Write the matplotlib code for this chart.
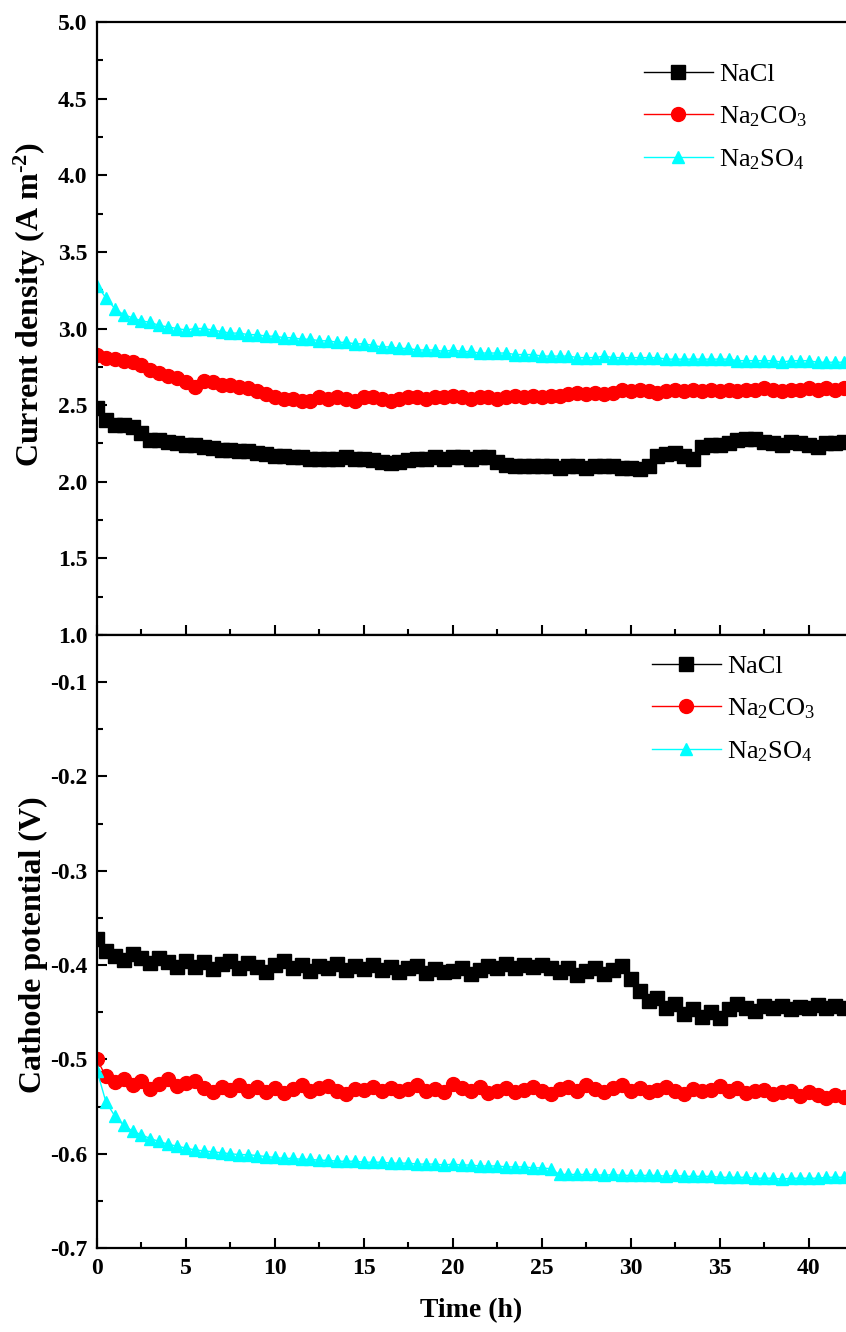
import numpy as np
import matplotlib
matplotlib.use("Agg")
import matplotlib.pyplot as plt
from matplotlib.ticker import MultipleLocator

plt.rcParams['font.family'] = ['Liberation Serif', 'DejaVu Serif']
plt.rcParams['mathtext.fontset'] = 'custom'
plt.rcParams['mathtext.rm'] = 'Liberation Serif'
plt.rcParams['mathtext.bf'] = 'Liberation Serif:bold'
plt.rcParams['mathtext.default'] = 'regular'

# sampling times (h), every 0.5 h
time_h = np.arange(0, 42.5, 0.5)

labels = ['NaCl', 'Na$_2$CO$_3$', 'Na$_2$SO$_4$']

# current density (A m-2)
cd_nacl = [
    2.48, 2.40, 2.37, 2.37, 2.36, 2.32, 2.27, 2.27, 2.26, 2.25,
    2.24, 2.24, 2.23, 2.22, 2.21, 2.21, 2.20, 2.20, 2.19, 2.18,
    2.17, 2.17, 2.16, 2.16, 2.15, 2.15, 2.15, 2.15, 2.16, 2.15,
    2.15, 2.14, 2.13, 2.12, 2.13, 2.14, 2.15, 2.15, 2.16, 2.15,
    2.16, 2.16, 2.15, 2.16, 2.16, 2.13, 2.11, 2.10, 2.10, 2.10,
    2.10, 2.10, 2.09, 2.10, 2.10, 2.09, 2.10, 2.10, 2.10, 2.09,
    2.09, 2.08, 2.10, 2.17, 2.18, 2.19, 2.17, 2.15, 2.23, 2.24,
    2.24, 2.25, 2.27, 2.28, 2.28, 2.26, 2.25, 2.24, 2.26, 2.25,
    2.24, 2.23, 2.25, 2.25, 2.26,
]
cd_na2co3 = [
    2.83, 2.81, 2.80, 2.79, 2.78, 2.76, 2.73, 2.71, 2.69, 2.68,
    2.65, 2.62, 2.66, 2.65, 2.63, 2.63, 2.62, 2.61, 2.59, 2.57,
    2.55, 2.54, 2.54, 2.53, 2.53, 2.55, 2.54, 2.55, 2.54, 2.53,
    2.55, 2.55, 2.54, 2.53, 2.54, 2.55, 2.55, 2.54, 2.55, 2.55,
    2.56, 2.55, 2.54, 2.55, 2.55, 2.54, 2.55, 2.56, 2.55, 2.56,
    2.55, 2.56, 2.56, 2.57, 2.58, 2.57, 2.58, 2.57, 2.58, 2.60,
    2.59, 2.60, 2.59, 2.58, 2.59, 2.60, 2.59, 2.60, 2.59, 2.60,
    2.59, 2.60, 2.59, 2.60, 2.60, 2.61, 2.60, 2.59, 2.60, 2.60,
    2.61, 2.60, 2.61, 2.60, 2.61,
]
cd_na2so4 = [
    3.28, 3.20, 3.13, 3.09, 3.07, 3.05, 3.04, 3.02, 3.01, 3.00,
    2.99, 3.00, 3.00, 2.99, 2.98, 2.97, 2.97, 2.96, 2.96, 2.95,
    2.95, 2.94, 2.94, 2.93, 2.93, 2.92, 2.92, 2.91, 2.91, 2.90,
    2.90, 2.89, 2.88, 2.88, 2.87, 2.87, 2.86, 2.86, 2.86, 2.85,
    2.86, 2.85, 2.85, 2.84, 2.84, 2.84, 2.84, 2.83, 2.83, 2.83,
    2.82, 2.82, 2.82, 2.82, 2.81, 2.81, 2.81, 2.82, 2.81, 2.81,
    2.81, 2.81, 2.81, 2.81, 2.80, 2.80, 2.80, 2.80, 2.80, 2.80,
    2.80, 2.80, 2.79, 2.79, 2.79, 2.79, 2.79, 2.78, 2.79, 2.79,
    2.79, 2.78, 2.78, 2.78, 2.78,
]

# cathode potential (V)
cp_nacl = [
    -0.372, -0.385, -0.390, -0.395, -0.388, -0.393, -0.398, -0.392, -0.397, -0.402,
    -0.396, -0.402, -0.397, -0.404, -0.399, -0.396, -0.403, -0.398, -0.402, -0.407,
    -0.400, -0.396, -0.403, -0.400, -0.406, -0.401, -0.403, -0.399, -0.405, -0.401,
    -0.404, -0.400, -0.405, -0.402, -0.407, -0.403, -0.401, -0.408, -0.404, -0.407,
    -0.406, -0.403, -0.409, -0.405, -0.401, -0.403, -0.399, -0.403, -0.400, -0.402,
    -0.400, -0.403, -0.407, -0.403, -0.410, -0.406, -0.403, -0.409, -0.405, -0.401,
    -0.415, -0.428, -0.438, -0.435, -0.445, -0.441, -0.452, -0.447, -0.455, -0.450,
    -0.456, -0.447, -0.441, -0.445, -0.449, -0.443, -0.446, -0.443, -0.447, -0.444,
    -0.446, -0.442, -0.445, -0.443, -0.446,
]
cp_na2co3 = [
    -0.500, -0.518, -0.524, -0.521, -0.527, -0.523, -0.531, -0.526, -0.521, -0.528,
    -0.525, -0.523, -0.530, -0.535, -0.529, -0.532, -0.527, -0.533, -0.529, -0.535,
    -0.530, -0.536, -0.531, -0.527, -0.533, -0.530, -0.528, -0.533, -0.537, -0.531,
    -0.532, -0.529, -0.534, -0.530, -0.534, -0.531, -0.527, -0.533, -0.531, -0.535,
    -0.526, -0.530, -0.534, -0.529, -0.536, -0.533, -0.530, -0.535, -0.532, -0.529,
    -0.534, -0.537, -0.531, -0.529, -0.534, -0.527, -0.531, -0.535, -0.530, -0.527,
    -0.533, -0.530, -0.535, -0.532, -0.529, -0.534, -0.537, -0.531, -0.534, -0.532,
    -0.528, -0.533, -0.530, -0.536, -0.534, -0.532, -0.537, -0.535, -0.534, -0.539,
    -0.535, -0.538, -0.541, -0.538, -0.540,
]
cp_na2so4 = [
    -0.512, -0.545, -0.560, -0.570, -0.576, -0.580, -0.584, -0.587, -0.590, -0.592,
    -0.594, -0.596, -0.597, -0.598, -0.599, -0.600, -0.601, -0.601, -0.602, -0.603,
    -0.604, -0.605, -0.605, -0.606, -0.606, -0.607, -0.607, -0.608, -0.608, -0.608,
    -0.609, -0.609, -0.609, -0.610, -0.610, -0.610, -0.611, -0.611, -0.611, -0.612,
    -0.611, -0.612, -0.612, -0.613, -0.613, -0.613, -0.614, -0.614, -0.614, -0.615,
    -0.615, -0.616, -0.622, -0.622, -0.622, -0.622, -0.622, -0.623, -0.622, -0.623,
    -0.623, -0.623, -0.623, -0.623, -0.624, -0.623, -0.624, -0.624, -0.624, -0.624,
    -0.625, -0.625, -0.625, -0.625, -0.626, -0.626, -0.626, -0.627, -0.626, -0.626,
    -0.626, -0.626, -0.625, -0.625, -0.625,
]

styles = [
    dict(color='black', marker='s', markersize=9.5),
    dict(color='red', marker='o', markersize=10),
    dict(color='#00FFFF', marker='^', markersize=9),
]

W, H = 846, 1332
fig = plt.figure(figsize=(W / 100, H / 100), dpi=100)
left = 97 / W
ax1 = fig.add_axes([left, 1 - 635 / H, 1 - left, (635 - 22) / H])
ax2 = fig.add_axes([left, 1 - 1248 / H, 1 - left, (1248 - 635) / H])

for s, y, lab in zip(styles, [cd_nacl, cd_na2co3, cd_na2so4], labels):
    ax1.plot(time_h, y, linewidth=1, label=lab, **s)
for s, y, lab in zip(styles, [cp_nacl, cp_na2co3, cp_na2so4], labels):
    ax2.plot(time_h, y, linewidth=1, label=lab, **s)

ax1.set_ylim(1.0, 5.0)
ax1.yaxis.set_major_locator(MultipleLocator(0.5))
ax1.yaxis.set_minor_locator(MultipleLocator(0.25))
ax2.set_ylim(-0.7, -0.05)
ax2.yaxis.set_major_locator(MultipleLocator(0.1))
ax2.yaxis.set_minor_locator(MultipleLocator(0.05))

for ax in (ax1, ax2):
    ax.set_xlim(0, 42.1)
    ax.xaxis.set_major_locator(MultipleLocator(5))
    ax.xaxis.set_minor_locator(MultipleLocator(2.5))
    ax.spines['right'].set_visible(False)
    for sp in ax.spines.values():
        sp.set_linewidth(1.6)
    ax.tick_params(which='both', direction='in', width=1.5, top=False, right=False)
    ax.tick_params(which='major', length=7, labelsize=17, pad=7)
    ax.tick_params(which='minor', length=4)

ax1.tick_params(axis='x', labelbottom=False)
ax2.yaxis.set_major_formatter(plt.FuncFormatter(lambda v, p: f'{v:.1f}'))
for ax in (ax1, ax2):
    for t in ax.get_xticklabels() + ax.get_yticklabels():
        t.set_fontweight('bold')

ax1.set_ylabel(r'Current density (A m$^{\text{-}2}$)', fontsize=23, fontweight='bold')
ax1.yaxis.set_label_coords(-0.066, 0.54)
ax2.set_ylabel('Cathode potential (V)', fontsize=23, fontweight='bold')
ax2.yaxis.set_label_coords(-0.066, 0.494)
ax2.set_xlabel('Time (h)', fontsize=20, fontweight='bold', labelpad=14)

leg_kw = dict(frameon=False, fontsize=19, handlelength=2.6, handletextpad=0.25,
              labelspacing=0.68, borderpad=0, borderaxespad=0, numpoints=1)
ax1.legend(loc='upper left', bbox_to_anchor=(644 / W, 1 - 63 / H),
           bbox_transform=fig.transFigure, **leg_kw)
ax2.legend(loc='upper left', bbox_to_anchor=(652 / W, 1 - 655 / H),
           bbox_transform=fig.transFigure, **leg_kw)

fig.savefig('out.png', dpi=100)
